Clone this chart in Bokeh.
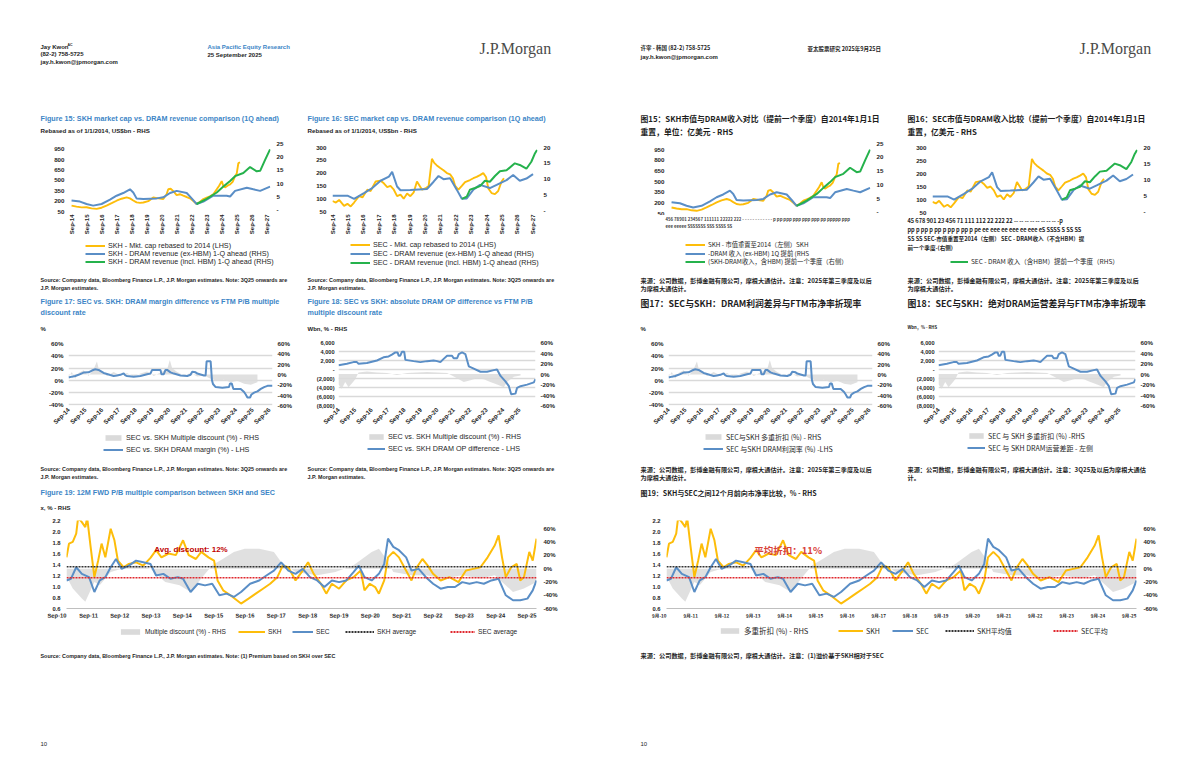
import math
from bokeh.plotting import figure
from bokeh.models import Range1d, LinearAxis, FixedTicker, Legend, LegendItem, Label
from bokeh.layouts import row, column
from bokeh.embed import file_html
from bokeh.resources import INLINE
from bokeh.core.properties import value

SANS = "Liberation Sans"
SERIF = "Liberation Serif"
CJK = "Noto Sans CJK SC"
YEL = "#FDBD0A"
BLU = "#5A8EC6"
GRN = "#25B24C"
GRY = "#DADADA"
TBLUE = "#3C85C6"
INK = "#1e1e1e"
NAN = float("nan")

# ============================ DATA ============================
# Figure 15: SKH market cap (LHS, rebased) vs DRAM revenue 1Q ahead (RHS, US$bn)
f15_cap_t = [2014.75, 2015.08, 2015.42, 2015.75, 2016.08, 2016.42, 2016.75, 2017.08, 2017.42, 2017.75,
             2018.08, 2018.42, 2018.64, 2018.86, 2019.08, 2019.31, 2019.53, 2019.86, 2020.19, 2020.53,
             2020.86, 2021.08, 2021.19, 2021.35, 2021.53, 2021.75, 2021.97, 2022.19, 2022.42, 2022.64,
             2022.86, 2023.08, 2023.31, 2023.53, 2023.75, 2023.97, 2024.19, 2024.42, 2024.57, 2024.75,
             2024.86, 2024.97, 2025.19, 2025.31, 2025.48, 2025.64, 2025.75, 2025.86, 2025.97]
f15_cap_v = [135, 120, 110, 112, 95, 88, 105, 135, 170, 206,
             235, 254, 240, 210, 183, 175, 180, 200, 254, 240,
             230, 300, 372, 380, 345, 287, 300, 280, 260, 240,
             200, 159, 190, 230, 250, 270, 300, 372, 420, 490,
             420, 400, 430, 443, 480, 562, 600, 751, 760]
f15_ex_t = [2014.75, 2015.31, 2015.75, 2016.19, 2016.75, 2017.31, 2017.75, 2018.19, 2018.64, 2018.86,
            2019.08, 2019.53, 2020.42, 2020.86, 2021.31, 2021.75, 2022.42, 2022.75, 2023.08, 2023.53,
            2024.19, 2025.08, 2025.31, 2025.64, 2026.42, 2026.86, 2027.31, 2027.97]
f15_ex_v = [3.7, 3.3, 2.4, 1.8, 2.4, 4.0, 5.5, 6.5, 7.9, 6.7,
            4.5, 4.3, 4.5, 4.9, 6.5, 7.3, 6.5, 4.5, 2.4, 3.3,
            5.5, 5.5, 5.2, 7.3, 8.5, 7.9, 7.3, 8.9]
f15_in_t = [2023.08, 2023.75, 2024.42, 2024.86, 2025.31, 2025.64, 2026.19, 2026.64, 2027.08, 2027.31, 2027.64, 2027.97]
f15_in_v = [2.4, 4.3, 6.7, 8.9, 11.0, 12.8, 14.0, 16.2, 14.6, 14.8, 18.9, 22.8]
f15_left_ticks = [50, 200, 350, 500, 650, 800, 950]
f15_left_labels = ["50", "200", "350", "500", "650", "800", "950"]
f15_right_ticks = [0, 5, 10, 15, 20, 25]
f15_right_labels = ["-", "5", "10", "15", "20", "25"]
f15_x_ticks = [2014.75, 2015.75, 2016.75, 2017.75, 2018.75, 2019.75, 2020.75,
               2021.75, 2022.75, 2023.75, 2024.75, 2025.75, 2026.75, 2027.75]
f15_x_labels = ["Sep-14", "Sep-15", "Sep-16", "Sep-17", "Sep-18", "Sep-19", "Sep-20",
                "Sep-21", "Sep-22", "Sep-23", "Sep-24", "Sep-25", "Sep-26", "Sep-27"]

# Figure 16: SEC market cap vs DRAM revenue
f16_cap_t = [2014.75, 2014.97, 2015.18, 2015.50, 2015.72, 2015.93, 2016.15, 2016.47, 2016.69, 2017.01,
             2017.22, 2017.55, 2017.87, 2018.08, 2018.30, 2018.51, 2018.73, 2018.94, 2019.16, 2019.37,
             2019.59, 2019.80, 2020.02, 2020.23, 2020.41, 2020.56, 2020.77, 2020.99, 2021.20, 2021.35,
             2021.52, 2021.74, 2021.95, 2022.17, 2022.38, 2022.56, 2022.71, 2022.92, 2023.14, 2023.35,
             2023.67, 2023.89, 2024.10, 2024.32, 2024.53, 2024.71, 2024.86, 2025.07, 2025.29, 2025.50,
             2025.72, 2025.87]
f16_cap_v = [91, 85, 95, 72, 80, 70, 85, 110, 105, 135,
             130, 167, 170, 160, 145, 150, 135, 110, 116, 100,
             120, 110, 125, 167, 150, 135, 140, 150, 256, 240,
             230, 220, 211, 200, 195, 180, 150, 135, 150, 165,
             173, 180, 185, 192, 200, 185, 140, 122, 118, 130,
             167, 180]
f16_ex_t = [2014.75, 2015.72, 2016.15, 2016.79, 2017.33, 2017.87, 2018.41, 2018.62, 2018.94, 2019.16,
            2019.80, 2020.88, 2021.31, 2021.63, 2021.95, 2022.38, 2022.81, 2023.14, 2023.46, 2023.89,
            2024.32, 2024.96, 2025.40, 2026.04, 2026.47, 2026.90, 2027.33, 2027.76]
f16_ex_v = [4.8, 4.8, 3.8, 5.6, 7.2, 9.5, 10.8, 12.3, 7.7, 6.5,
            6.6, 6.9, 9.2, 11.0, 10.0, 10.3, 6.7, 3.8, 3.9, 6.7,
            8.2, 7.2, 8.2, 9.7, 11.3, 9.5, 10.2, 11.6]
f16_in_t = [2023.14, 2023.46, 2023.67, 2023.99, 2024.32, 2024.64, 2024.96, 2025.29, 2025.61, 2026.04,
            2026.58, 2026.90, 2027.33, 2027.65, 2027.87, 2028.02]
f16_in_v = [3.8, 4.5, 6.7, 7.2, 7.8, 9.5, 9.2, 11.0, 12.5, 12.8,
            15.0, 14.5, 13.3, 15.5, 18.0, 19.2]
f16_left_ticks = [50, 100, 150, 200, 250, 300]
f16_left_labels = ["50", "100", "150", "200", "250", "300"]
f16_right_ticks = [0, 5, 10, 15, 20]
f16_right_labels = ["-", "5", "10", "15", "20"]

# Figure 17: DRAM margin difference (LHS) vs multiple discount (RHS)
f17_mgn_t = [2014.75, 2014.95, 2015.15, 2015.35, 2015.65, 2015.95, 2016.15, 2016.35, 2016.55, 2016.85,
             2017.25, 2017.45, 2017.65, 2017.85, 2018.05, 2018.15, 2018.25, 2018.65, 2019.05, 2019.45,
             2019.65, 2019.75, 2020.25, 2020.31, 2020.45, 2020.55, 2020.65, 2020.85, 2021.05, 2021.45,
             2021.85, 2022.05, 2022.15, 2022.35, 2022.45, 2022.85, 2022.95, 2023.01, 2023.25, 2023.33,
             2023.39, 2023.55, 2023.95, 2024.35, 2024.41, 2024.51, 2024.61, 2025.05, 2025.25, 2025.35,
             2025.45, 2025.61, 2025.69, 2025.85, 2026.05, 2026.25, 2026.45, 2026.65, 2026.95]
f17_mgn_v = [4.6, 6, 7, 9, 12.6, 13, 16, 18, 17, 12,
             8.6, 7, 8, 9, 11.4, 8, 7, 5.7, 7, 10,
             11, 17, 17, 10, 10, 17, 17, 13, 11, 8,
             7, 9, 14, 13, 11, 8, 8, 31, 31, 0,
             -6, -11, -12, -11, -5, -5, -14, -14, -19, -23,
             -28, -28, -23, -20, -18, -14, -11, -9, -9]
f17_disc_t = [2014.75, 2014.95, 2015.15, 2015.35, 2015.65, 2015.95, 2016.25, 2016.45, 2016.55, 2016.75,
              2017.05, 2017.45, 2017.85, 2018.25, 2018.65, 2019.05, 2019.45, 2019.85, 2020.25, 2020.65,
              2020.81, 2020.95, 2021.25, 2021.65, 2022.05, 2022.45, 2022.85, 2023.25, 2023.65, 2024.05,
              2024.45, 2024.85, 2025.25, 2025.65, 2026.05]
f17_disc_v = [-5, 5, -8, 3, 8, -3, 10, 25, 12, 5,
              -3, 5, -2, 3, -4, 2, 6, -3, 4, 10,
              28, 12, 5, -2, 3, -4, -2, -8, -12, -10,
              -15, -12, -18, -20, -15]
f17_left_ticks = [-40, -20, 0, 20, 40, 60]
f17_left_labels = ["-40%", "-20%", "0%", "20%", "40%", "60%"]
pct_right_ticks = [-60, -40, -20, 0, 20, 40, 60]
pct_right_labels = ["-60%", "-40%", "-20%", "0%", "20%", "40%", "60%"]
f17_x_ticks = [2014.75, 2015.75, 2016.75, 2017.75, 2018.75, 2019.75, 2020.75,
               2021.75, 2022.75, 2023.75, 2024.75, 2025.75, 2026.75]
f17_x_labels = ["Sep-14", "Sep-15", "Sep-16", "Sep-17", "Sep-18", "Sep-19", "Sep-20",
                "Sep-21", "Sep-22", "Sep-23", "Sep-24", "Sep-25", "Sep-26"]

# Figure 18: absolute DRAM OP difference (LHS, Wbn) vs multiple discount (RHS)
f18_op_t = [2014.75, 2015.26, 2015.66, 2015.87, 2015.97, 2016.48, 2017.09, 2017.49, 2017.80, 2018.00,
            2018.21, 2018.35, 2018.41, 2018.51, 2018.61, 2018.75, 2018.82, 2019.32, 2019.73, 2020.14,
            2020.54, 2020.75, 2020.95, 2021.15, 2021.36, 2021.66, 2021.76, 2021.97, 2022.07, 2022.27,
            2022.47, 2022.68, 2022.98, 2023.39, 2023.79, 2024.20, 2024.40, 2024.61, 2024.91, 2025.12,
            2025.26, 2025.52, 2025.62, 2025.83, 2026.23, 2026.64, 2026.74]
f18_op_v = [930, 1290, 1640, 1640, 1290, 1430, 2000, 2710, 2900, 3290,
            3790, 3790, 3070, 3070, 3930, 3930, 2140, 1860, 1640, 1860,
            2000, 1860, 1640, 2360, 3070, 3070, 2500, 2500, 3430, 3790,
            3430, 710, 200, -500, -500, -140, 0, -1430, -2640, -3710,
            -5500, -5360, -4070, -3710, -3360, -2860, -2140]
f18_disc_t = [2014.75, 2014.95, 2015.16, 2015.36, 2015.56, 2015.77, 2015.97, 2016.48, 2017.09, 2017.70,
              2018.31, 2018.92, 2019.53, 2020.14, 2020.75, 2021.36, 2021.97, 2022.37, 2022.78, 2023.18,
              2023.59, 2023.99, 2024.40, 2024.81, 2025.01, 2025.42, 2025.83]
f18_disc_v = [-20, -28, -15, -25, -18, -10, 3, 5, 3, 2,
              -2, 2, 3, 4, 3, 2, -8, -15, -12, -8,
              -10, -15, -20, -25, -15, -5, -3]
f18_left_ticks = [-8000, -6000, -4000, -2000, 0, 2000, 4000, 6000]
f18_left_labels = ["(8,000)", "(6,000)", "(4,000)", "(2,000)", "-", "2,000", "4,000", "6,000"]

# Figure 19: 12M FWD P/B of SKH and SEC (LHS, x) and multiple discount (RHS, %)
f19_skh_t = [2010.75, 2010.83, 2010.95, 2011.06, 2011.12, 2011.24, 2011.35, 2011.41, 2011.52, 2011.64,
             2011.76, 2011.87, 2011.99, 2012.16, 2012.28, 2012.39, 2012.57, 2012.74, 2012.97, 2013.20,
             2013.43, 2013.61, 2013.78, 2014.01, 2014.24, 2014.47, 2014.65, 2014.88, 2015.05, 2015.28,
             2015.46, 2015.57, 2015.75, 2015.98, 2016.32, 2016.56, 2016.79, 2017.02, 2017.25, 2017.48,
             2017.65, 2017.83, 2018.06, 2018.29, 2018.46, 2018.64, 2018.87, 2019.04, 2019.22, 2019.45,
             2019.68, 2019.91, 2020.14, 2020.26, 2020.43, 2020.60, 2020.72, 2020.89, 2021.01, 2021.18,
             2021.36, 2021.53, 2021.76, 2021.93, 2022.11, 2022.28, 2022.45, 2022.69, 2022.97, 2023.26,
             2023.50, 2023.73, 2023.96, 2024.19, 2024.42, 2024.54, 2024.65, 2024.77, 2024.94, 2025.12,
             2025.23, 2025.35, 2025.52, 2025.63, 2025.75]
f19_skh_v = [1.53, 1.78, 1.81, 1.96, 2.25, 2.17, 2.08, 2.25, 1.72, 1.17,
             1.47, 1.78, 1.53, 2.05, 1.84, 1.47, 1.35, 1.41, 1.44, 1.38,
             1.52, 1.66, 1.53, 1.60, 1.57, 1.84, 1.57, 1.50, 1.63, 1.53,
             1.47, 1.11, 0.93, 0.84, 0.69, 0.78, 0.87, 0.96, 1.05, 1.17,
             1.38, 1.35, 1.11, 1.29, 1.44, 1.23, 1.05, 0.87, 1.05, 0.96,
             1.11, 1.17, 1.29, 0.93, 1.05, 0.99, 0.87, 1.11, 1.53, 1.63,
             1.53, 1.35, 1.11, 1.35, 1.50, 1.38, 1.23, 1.11, 1.17, 1.08,
             1.29, 1.32, 1.35, 1.53, 1.75, 1.93, 1.53, 1.17, 1.35, 1.41,
             1.11, 1.17, 1.63, 1.47, 1.87]
f19_sec_t = [2010.75, 2010.89, 2011.06, 2011.24, 2011.47, 2011.64, 2011.81, 2011.99, 2012.16, 2012.33,
             2012.51, 2012.74, 2012.97, 2013.20, 2013.43, 2013.61, 2013.84, 2014.07, 2014.30, 2014.47,
             2014.71, 2014.94, 2015.17, 2015.40, 2015.63, 2015.86, 2016.09, 2016.32, 2016.61, 2016.90,
             2017.13, 2017.37, 2017.60, 2017.83, 2018.06, 2018.29, 2018.52, 2018.75, 2018.98, 2019.22,
             2019.45, 2019.68, 2019.91, 2020.08, 2020.26, 2020.49, 2020.72, 2020.89, 2021.01, 2021.18,
             2021.36, 2021.59, 2021.76, 2021.99, 2022.22, 2022.45, 2022.69, 2022.92, 2023.15, 2023.38,
             2023.61, 2023.84, 2024.07, 2024.31, 2024.54, 2024.77, 2025.00, 2025.23, 2025.46, 2025.63,
             2025.75]
f19_sec_v = [1.11, 1.14, 1.35, 1.23, 1.17, 0.90, 1.11, 1.17, 1.35, 1.50,
             1.32, 1.38, 1.47, 1.44, 1.41, 1.20, 1.23, 1.14, 1.17, 1.14,
             0.90, 1.05, 1.02, 1.05, 0.84, 0.87, 0.81, 0.90, 1.05, 1.11,
             1.20, 1.29, 1.44, 1.29, 1.23, 1.32, 1.17, 1.11, 0.99, 1.11,
             1.08, 1.11, 1.26, 1.38, 1.17, 1.11, 1.23, 1.41, 1.87, 1.72,
             1.66, 1.53, 1.29, 1.32, 1.17, 1.05, 0.96, 0.99, 0.99, 1.08,
             1.05, 1.08, 1.05, 1.11, 1.14, 0.84, 0.75, 0.75, 0.78, 0.93,
             1.11]
f19_disc_t = [2010.75, 2010.95, 2011.24, 2011.35, 2011.64, 2011.81, 2012.16, 2012.51, 2012.97, 2013.43,
              2013.90, 2014.36, 2014.71, 2015.05, 2015.40, 2015.75, 2016.09, 2016.44, 2016.90, 2017.37,
              2017.60, 2018.06, 2018.75, 2019.33, 2019.91, 2020.49, 2020.72, 2020.95, 2021.18, 2021.76,
              2022.22, 2022.80, 2023.38, 2023.96, 2024.42, 2024.65, 2025.00, 2025.35, 2025.75]
f19_disc_v = [-12, -30, -45, -50, -20, -25, -5, 0, 5, 0,
              -20, -25, -35, -15, 5, 15, 25, 30, 30, 25,
              10, -5, -10, -5, 5, 25, 30, 15, -5, -10,
              -10, -15, -10, -15, -10, -20, -35, -30, -20]
f19_skh_avg = 1.36
f19_sec_avg = 1.16
f19_note_t = 2013.55
f19_note_v = 1.67
f19_left_ticks = [0.6, 0.8, 1.0, 1.2, 1.4, 1.6, 1.8, 2.0, 2.2]
f19_left_labels = ["0.6", "0.8", "1.0", "1.2", "1.4", "1.6", "1.8", "2.0", "2.2"]
f19_x_ticks = [2010.75, 2011.75, 2012.75, 2013.75, 2014.75, 2015.75, 2016.75, 2017.75,
               2018.75, 2019.75, 2020.75, 2021.75, 2022.75, 2023.75, 2024.75, 2025.75]
f19_x_labels_en = ["Sep-10", "Sep-11", "Sep-12", "Sep-13", "Sep-14", "Sep-15", "Sep-16", "Sep-17",
                   "Sep-18", "Sep-19", "Sep-20", "Sep-21", "Sep-22", "Sep-23", "Sep-24", "Sep-25"]
f19_x_labels_zh = ["9月-10", "9月-11", "9月-12", "9月-13", "9月-14", "9月-15", "9月-16", "9月-17",
                   "9月-18", "9月-19", "9月-20", "9月-21", "9月-22", "9月-23", "9月-24", "9月-25"]

# ============================ TEXTS ============================
LEG = {
    "en": dict(
        f15=["SKH - Mkt. cap rebased to 2014 (LHS)", "SKH - DRAM revenue (ex-HBM) 1-Q ahead (RHS)",
             "SKH - DRAM revenue (incl. HBM) 1-Q ahead (RHS)"],
        f16=["SEC - Mkt. cap rebased to 2014 (LHS)", "SEC - DRAM revenue (ex-HBM) 1-Q ahead (RHS)",
             "SEC - DRAM revenue (incl. HBM) 1-Q ahead (RHS)"],
        f17=["SEC vs. SKH Multiple discount (%) - RHS", "SEC vs. SKH DRAM margin (%) - LHS"],
        f18=["SEC vs. SKH Multiple discount (%) - RHS", "SEC vs. SKH DRAM OP difference - LHS"],
        f19=["Multiple discount (%) - RHS", "SKH", "SEC", "SKH average", "SEC average"],
        note="Avg. discount: 12%",
    ),
    "zh": dict(
        f15=["SKH - 市值重置至2014（左侧）SKH", "-DRAM 收入 (ex-HBM) 1Q 提前 (RHS",
             "(SKH-DRAM收入，含HBM) 提前一个季度（右侧）"],
        f16=["SEC - DRAM 收入（含HBM）提前一个季度（RHS）"],
        f17=["SEC与SKH 多重折扣 (%) - RHS", "SEC 与SKH DRAM利润率 (%) -LHS"],
        f18=["SEC 与 SKH 多重折扣 (%) -RHS", "SEC 与 SKH DRAM运营差距 - 左侧"],
        f19=["多重折扣 (%) - RHS", "SKH", "SEC", "SKH平均值", "SEC平均"],
        note="平均折扣：11%",
    ),
}
f15_garble_zh = ["456 78901 234567 111111 22222 222 - - - - - - - - - - - - p pp ppp ppp ppp ppp pp ppppp ppp",
                 "eee eeeee SSSSSSS SSS SSSS SS"]
f16_garble_zh = ["45 678 901 23 456 71 111 112 22 222 22 -- -- -- -- -- -- -- -- -p",
                 "pp p pp p pp p pp p pp p pe ee eee ee eee ee eee eS SSSS S SS SS",
                 "SS SS    SEC-市值重置至2014（左侧） SEC - DRAM收入（不含HBM）提",
                 "前一个季度-(右侧)"]

# ============================ HELPERS ============================

def text_fig(x0, y0, x1, y1, items, legends=()):
    w, h = x1 - x0, y1 - y0
    p = figure(width=w, height=h, x_range=Range1d(0, w), y_range=Range1d(h, 0), title=None,
               toolbar_location=None, output_backend="svg", min_border=0,
               x_axis_type=None, y_axis_type=None)
    p.outline_line_color = None
    p.frame_align = False
    for (x, y, txt, font, size, color, style) in items:
        p.text(x=[x - x0], y=[y - y0], text=[txt], text_font=value(font), text_font_size=size,
               text_color=color, text_font_style=style, text_baseline="middle", text_align="left")
    for lg in legends:
        kind, color, label, x, y, font, gw, fsz = lg[:8]
        dash = lg[8] if len(lg) > 8 else "solid"
        gh = 7
        # legend key renderers hold no visible data (a single NaN)
        if kind == "area":
            r = p.varea(x=[NAN], y1=[NAN], y2=[NAN], fill_color=color)
        else:
            r = p.line(x=[NAN], y=[NAN], line_color=color, line_width=2, line_dash=dash)
        H = max(gh, round(fsz * 1.25))
        L = Legend(items=[LegendItem(label=label, renderers=[r])],
                   location=(x - x0, h - (y - y0) - H / 2),
                   label_text_font=font, label_text_font_size="%gpx" % fsz, label_text_color=INK,
                   glyph_width=gw, glyph_height=gh, label_height=H, spacing=0, padding=0, margin=0,
                   label_standoff=3, border_line_alpha=0, background_fill_alpha=0)
        p.add_layout(L)
    return p


def mk_fig(fig_box, frame_box, xr, yl, yr, x_axis=True):
    fx0, fy0, fx1, fy1 = fig_box
    px0, py0, px1, py1 = frame_box
    kw = {}
    if not x_axis:
        kw["x_axis_location"] = None
    p = figure(width=fx1 - fx0, height=fy1 - fy0, x_range=Range1d(*xr), y_range=Range1d(*yl),
               title=None, toolbar_location=None, output_backend="svg",
               min_border_left=px0 - fx0, min_border_right=fx1 - px1,
               min_border_top=py0 - fy0, min_border_bottom=fy1 - py1, **kw)
    p.frame_align = False
    p.extra_y_ranges = {"r": Range1d(*yr)}
    p.outline_line_color = None
    p.xgrid.visible = False
    p.ygrid.visible = False
    return p


def style_axis(ax, ticks, labels, font, size, orient=None, standoff=4, style="bold", line=None):
    ax.ticker = FixedTicker(ticks=ticks)
    ax.major_label_overrides = {t: l for t, l in zip(ticks, labels)}
    ax.axis_line_color = line
    ax.major_tick_line_color = None
    ax.minor_tick_line_color = None
    ax.major_tick_in = 0
    ax.major_tick_out = 0
    ax.minor_tick_in = 0
    ax.minor_tick_out = 0
    ax.major_label_text_font = font
    ax.major_label_text_font_size = size
    ax.major_label_text_color = INK
    ax.major_label_text_font_style = style
    ax.major_label_standoff = standoff
    if orient is not None:
        ax.major_label_orientation = orient


def add_right(p, ticks, labels, font, size, standoff=5):
    ra = LinearAxis(y_range_name="r")
    style_axis(ra, ticks, labels, font, size, standoff=standoff)
    p.add_layout(ra, "right")


TK = "6.2px"   # tick label size for the small charts


def chart15(fig_box, frame_box, lang):
    p = mk_fig(fig_box, frame_box, (2014.68, 2028.0), (50, 1035), (-0.4, 25), x_axis=(lang == "en"))
    p.line(f15_cap_t, f15_cap_v, line_color=YEL, line_width=1.9)
    p.line(f15_ex_t, f15_ex_v, line_color=BLU, line_width=2, y_range_name="r")
    p.line(f15_in_t, f15_in_v, line_color=GRN, line_width=2, y_range_name="r")
    style_axis(p.yaxis[0], f15_left_ticks, f15_left_labels, SANS, TK, standoff=6)
    add_right(p, f15_right_ticks, f15_right_labels, SANS, TK, standoff=6)
    if lang == "en":
        style_axis(p.xaxis[0], f15_x_ticks, f15_x_labels, SANS, "6px", orient=math.pi / 2, standoff=3)
    return p


def chart16(fig_box, frame_box, lang):
    p = mk_fig(fig_box, frame_box, (2014.75, 2028.05), (50, 300), (-0.2, 20), x_axis=(lang == "en"))
    p.line(f16_cap_t, f16_cap_v, line_color=YEL, line_width=1.9)
    p.line(f16_ex_t, f16_ex_v, line_color=BLU, line_width=2, y_range_name="r")
    p.line(f16_in_t, f16_in_v, line_color=GRN, line_width=2, y_range_name="r")
    style_axis(p.yaxis[0], f16_left_ticks, f16_left_labels, SANS, TK, standoff=6)
    add_right(p, f16_right_ticks, f16_right_labels, SANS, TK, standoff=6)
    if lang == "en":
        style_axis(p.xaxis[0], f15_x_ticks, f15_x_labels, SANS, "6px", orient=math.pi / 2, standoff=3)
    return p


def grid_style(p, ticks):
    p.ygrid.visible = True
    p.ygrid.ticker = FixedTicker(ticks=ticks)
    p.ygrid.grid_line_color = "#D9D9D9"
    p.ygrid.grid_line_width = 1.3


def chart17(fig_box, frame_box, lang):
    p = mk_fig(fig_box, frame_box, (2014.75, 2026.95), (-41, 60), (-60, 60))
    grid_style(p, f17_left_ticks)
    p.varea(x=f17_disc_t, y1=0, y2=f17_disc_v, fill_color=GRY, fill_alpha=0.85, y_range_name="r")
    p.line(f17_mgn_t, f17_mgn_v, line_color=BLU, line_width=2)
    style_axis(p.yaxis[0], f17_left_ticks, f17_left_labels, SANS, TK, standoff=5)
    add_right(p, pct_right_ticks, pct_right_labels, SANS, TK, standoff=5)
    style_axis(p.xaxis[0], f17_x_ticks, f17_x_labels, SANS, "6.2px", orient=math.pi / 4, standoff=3)
    return p


def chart18(fig_box, frame_box, lang):
    p = mk_fig(fig_box, frame_box, (2014.75, 2026.74), (-8000, 6000), (-60, 60))
    grid_style(p, f18_left_ticks)
    p.varea(x=f18_disc_t, y1=0, y2=f18_disc_v, fill_color=GRY, fill_alpha=0.85, y_range_name="r")
    p.line(f18_op_t, f18_op_v, line_color=BLU, line_width=2)
    style_axis(p.yaxis[0], f18_left_ticks, f18_left_labels, SANS, "5.6px", standoff=4)
    add_right(p, pct_right_ticks, pct_right_labels, SANS, TK, standoff=5)
    style_axis(p.xaxis[0], f17_x_ticks, f17_x_labels, SANS, "6.2px", orient=math.pi / 4, standoff=3)
    return p


def chart19(fig_box, frame_box, lang):
    font = SANS if lang == "en" else CJK
    p = mk_fig(fig_box, frame_box, (2010.75, 2025.75), (0.6, 2.2), (-60, 72.5))
    p.varea(x=f19_disc_t, y1=0, y2=f19_disc_v, fill_color=GRY, fill_alpha=0.85, y_range_name="r")
    p.line(f19_skh_t, f19_skh_v, line_color=YEL, line_width=2)
    p.line(f19_sec_t, f19_sec_v, line_color=BLU, line_width=2)
    xa = [f19_skh_t[0], f19_skh_t[-1]]
    p.line(xa, [f19_skh_avg, f19_skh_avg], line_color="#333333", line_width=1.6, line_dash="2 1")
    p.line(xa, [f19_sec_avg, f19_sec_avg], line_color="#E0282E", line_width=1.6, line_dash="2 1")
    style_axis(p.yaxis[0], f19_left_ticks, f19_left_labels, SANS, "5.8px", standoff=6)
    add_right(p, pct_right_ticks, pct_right_labels, SANS, "6px", standoff=7)
    labels = f19_x_labels_en if lang == "en" else f19_x_labels_zh
    style_axis(p.xaxis[0], f19_x_ticks, labels, font, "5.8px" if lang == "en" else "4.6px",
               standoff=7, line="#BFBFBF", orient=0.01)
    if lang == "en":
        p.add_layout(Label(x=f19_note_t, y=f19_note_v, text=LEG[lang]["note"], text_font=SANS,
                           text_font_size="8px", text_font_style="bold", text_color="#C00000",
                           text_baseline="middle"))
    else:
        p.add_layout(Label(x=f19_note_t, y=f19_note_v, text=LEG[lang]["note"], text_font=CJK,
                           text_font_size="9.5px", text_font_style="bold", text_color="#D9413A",
                           text_baseline="middle"))
    return p


# ============================ PAGES ============================
b = "bold"
n = "normal"
SRC = "5.4px"
ZSRC = "6.2px"


def page_en():
    X0, X1, M = 0, 600, 300
    s1 = "Source: Company data, Bloomberg Finance L.P., J.P. Morgan estimates. Note: 3Q25 onwards are"
    s2 = "J.P. Morgan estimates."
    L = LEG["en"]
    tA = [(40, 46, "Jay Kwon", SANS, "6px", INK, b), (67, 44, "AC", SANS, "3.5px", INK, b),
          (40, 53, "(82-2) 758-5725", SANS, "6px", INK, b),
          (40, 61, "jay.h.kwon@jpmorgan.com", SANS, "6px", INK, b),
          (207, 46, "Asia Pacific Equity Research", SANS, "6px", TBLUE, b),
          (207, 54, "25 September 2025", SANS, "6px", INK, b),
          (479, 48, "J.P.Morgan", SERIF, "16px", "#4a4a4a", n),
          (40, 118, "Figure 15: SKH market cap vs. DRAM revenue comparison (1Q ahead)", SANS, "7.2px", TBLUE, b),
          (40, 130, "Rebased as of 1/1/2014, US$bn - RHS", SANS, "6.2px", INK, b),
          (307, 118, "Figure 16: SEC market cap vs. DRAM revenue comparison (1Q ahead)", SANS, "7.2px", TBLUE, b),
          (307, 130, "Rebased as of 1/1/2014, US$bn - RHS", SANS, "6.2px", INK, b)]
    tC = [(40, 279, s1, SANS, SRC, INK, b), (40, 287, s2, SANS, SRC, INK, b),
          (307, 279, s1, SANS, SRC, INK, b), (307, 287, s2, SANS, SRC, INK, b),
          (40, 301, "Figure 17: SEC vs. SKH: DRAM margin difference vs FTM P/B multiple", SANS, "7.2px", TBLUE, b),
          (40, 312, "discount rate", SANS, "7.2px", TBLUE, b),
          (40, 328, "%", SANS, "6px", INK, b),
          (307, 301, "Figure 18: SEC vs SKH: absolute DRAM OP difference vs FTM P/B", SANS, "7.2px", TBLUE, b),
          (307, 312, "multiple discount rate", SANS, "7.2px", TBLUE, b),
          (307, 328, "Wbn, % - RHS", SANS, "6px", INK, b)]
    lC = [("line", YEL, L["f15"][0], 85, 245, SANS, 20, 7.2), ("line", BLU, L["f15"][1], 85, 253, SANS, 20, 7.2),
          ("line", GRN, L["f15"][2], 85, 261, SANS, 20, 7.2),
          ("line", YEL, L["f16"][0], 350, 244, SANS, 20, 7.2), ("line", BLU, L["f16"][1], 350, 253, SANS, 20, 7.2),
          ("line", GRN, L["f16"][2], 350, 262, SANS, 20, 7.2)]
    tE = [(40, 468, s1, SANS, SRC, INK, b), (40, 476, s2, SANS, SRC, INK, b),
          (307, 468, s1, SANS, SRC, INK, b), (307, 476, s2, SANS, SRC, INK, b),
          (40, 492, "Figure 19: 12M FWD P/B multiple comparison between SKH and SEC", SANS, "7.2px", TBLUE, b),
          (40, 507, "x, % - RHS", SANS, "6px", INK, b)]
    lE = [("area", GRY, L["f17"][0], 103, 437, SANS, 20, 7.2), ("line", BLU, L["f17"][1], 103, 449, SANS, 20, 7.2),
          ("area", GRY, L["f18"][0], 367, 436, SANS, 18, 7.2), ("line", BLU, L["f18"][1], 367, 448, SANS, 18, 7.2)]
    tG = [(40, 655, "Source: Company data, Bloomberg Finance L.P., J.P. Morgan estimates. Note: (1) Premium based on SKH over SEC", SANS, SRC, INK, b),
          (40, 743, "10", SANS, "6px", INK, n)]
    lG = [("area", GRY, L["f19"][0], 118, 631, SANS, 24, 6.6), ("line", YEL, L["f19"][1], 238, 631, SANS, 27, 6.6),
          ("line", BLU, L["f19"][2], 292, 631, SANS, 21, 6.6),
          ("line", "#333333", L["f19"][3], 345, 631, SANS, 29, 6.6, "2 1"),
          ("line", "#E0282E", L["f19"][4], 450, 631, SANS, 25, 6.6, "2 1")]
    return column(
        text_fig(X0, 0, X1, 140, tA),
        row(chart15((X0, 140, M, 237), (70, 143, 270, 213), "en"),
            chart16((M, 140, X1, 237), (332, 147, 537, 212), "en")),
        text_fig(X0, 237, X1, 338, tC, lC),
        row(chart17((X0, 338, M, 430), (68, 343, 272, 405), "en"),
            chart18((M, 338, X1, 430), (338, 342, 535, 405), "en")),
        text_fig(X0, 430, X1, 515, tE, lE),
        chart19((X0, 515, X1, 625), (66, 520, 536, 608), "en"),
        text_fig(X0, 625, X1, 760, tG, lG),
    )


def page_zh():
    X0, X1, M = 600, 1184, 900
    z1 = "来源：公司数据，彭博金融有限公司，摩根大通估计。注意：2025年第三季度及以后"
    z2 = "为摩根大通估计。"
    L = LEG["zh"]
    tA = [(640, 47, "许宰 - 韩国 (82-2) 758-5725", CJK, "5.5px", INK, b),
          (640, 56, "jay.h.kwon@jpmorgan.com", SANS, "6px", INK, b),
          (807, 48, "亚太股票研究 2025年9月25日", CJK, "5.5px", INK, b),
          (1079, 48, "J.P.Morgan", SERIF, "16px", "#4a4a4a", n),
          (640, 118, "图15：SKH市值与DRAM收入对比（提前一个季度）自2014年1月1日", CJK, "7.8px", INK, b),
          (640, 131, "重置，单位：亿美元 - RHS", CJK, "7.8px", INK, b),
          (907, 118, "图16：SEC市值与DRAM收入比较（提前一个季度）自2014年1月1日", CJK, "7.8px", INK, b),
          (907, 131, "重置，亿美元 - RHS", CJK, "7.8px", INK, b)]
    tC = [(665, 218, f15_garble_zh[0], CJK, "4.3px", "#444444", b),
          (665, 225, f15_garble_zh[1], CJK, "4.3px", "#444444", b),
          (907, 220, f16_garble_zh[0], CJK, "5.6px", INK, b),
          (907, 229, f16_garble_zh[1], CJK, "5.6px", INK, b),
          (907, 238, f16_garble_zh[2], CJK, "5.6px", INK, b),
          (907, 247, f16_garble_zh[3], CJK, "5.6px", INK, b),
          (640, 280, z1, CJK, ZSRC, INK, b), (640, 288, z2, CJK, ZSRC, INK, b),
          (907, 280, z1, CJK, ZSRC, INK, b), (907, 288, z2, CJK, ZSRC, INK, b),
          (640, 303, "图17：SEC与SKH：DRAM利润差异与FTM市净率折现率", CJK, "8.8px", INK, b),
          (640, 328, "%", SANS, "6px", INK, b),
          (907, 303, "图18：SEC与SKH：绝对DRAM运营差异与FTM市净率折现率", CJK, "8.8px", INK, b),
          (907, 326, "Wbn，% - RHS", CJK, "4.2px", INK, b)]
    lC = [("line", YEL, L["f15"][0], 685, 245, CJK, 20, 6.3), ("line", BLU, L["f15"][1], 685, 254, CJK, 20, 6.3),
          ("line", GRN, L["f15"][2], 685, 262, CJK, 20, 6.3),
          ("line", GRN, L["f16"][0], 950, 262, CJK, 18, 6.5)]
    tE = [(640, 469, z1, CJK, ZSRC, INK, b), (640, 477, z2, CJK, ZSRC, INK, b),
          (907, 469, "来源：公司数据，彭博金融有限公司，摩根大通估计。注意：3Q25及以后为摩根大通估", CJK, ZSRC, INK, b),
          (907, 477, "计。", CJK, ZSRC, INK, b),
          (640, 492, "图19：SKH与SEC之间12个月前向市净率比较，% - RHS", CJK, "7px", INK, b)]
    lE = [("area", GRY, L["f17"][0], 703, 437, CJK, 20, 7), ("line", BLU, L["f17"][1], 703, 449, CJK, 20, 7),
          ("area", GRY, L["f18"][0], 967, 436, CJK, 18, 7), ("line", BLU, L["f18"][1], 967, 448, CJK, 18, 7)]
    tG = [(640, 655, "来源：公司数据，彭博金融有限公司，摩根大通估计。注意：(1)溢价基于SKH相对于SEC", CJK, ZSRC, INK, b),
          (640, 743, "10", SANS, "6px", INK, n)]
    lG = [("area", GRY, L["f19"][0], 718, 631, CJK, 23, 7.5), ("line", YEL, L["f19"][1], 838, 631, CJK, 25, 7),
          ("line", BLU, L["f19"][2], 892, 631, CJK, 21, 7),
          ("line", "#333333", L["f19"][3], 945, 631, CJK, 29, 7, "2 1"),
          ("line", "#E0282E", L["f19"][4], 1053, 631, CJK, 25, 7, "2 1")]
    return column(
        text_fig(X0, 0, X1, 140, tA),
        row(chart15((X0, 140, M, 215), (670, 143, 870, 213), "zh"),
            chart16((M, 140, X1, 215), (932, 147, 1137, 212), "zh")),
        text_fig(X0, 215, X1, 338, tC, lC),
        row(chart17((X0, 338, M, 430), (668, 343, 872, 405), "zh"),
            chart18((M, 338, X1, 430), (938, 342, 1135, 405), "zh")),
        text_fig(X0, 430, X1, 515, tE, lE),
        chart19((X0, 515, X1, 625), (666, 520, 1136, 608), "zh"),
        text_fig(X0, 625, X1, 760, tG, lG),
    )


layout = row(page_en(), page_zh())
open("out.html", "w").write(file_html(layout, INLINE))
